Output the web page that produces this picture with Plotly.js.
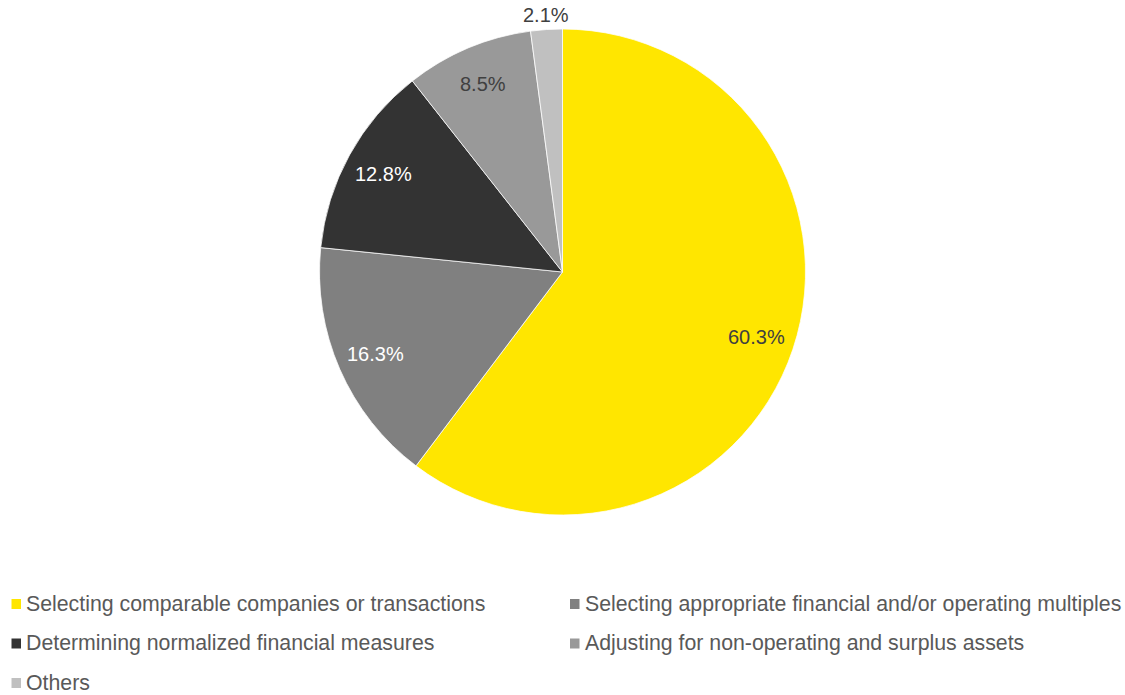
<!DOCTYPE html>
<html><head><meta charset="utf-8">
<script src="https://cdn.plot.ly/plotly-3.0.1.min.js"></script>
<style>body{margin:0;background:#fff}#chart{width:1125px;height:695px}</style>
</head><body><div id="chart"></div>
<script>
var categories = [
  "Selecting comparable companies or transactions",
  "Selecting appropriate financial and/or operating multiples",
  "Determining normalized financial measures",
  "Adjusting for non-operating and surplus assets",
  "Others"
];
var values = [60.3, 16.3, 12.8, 8.5, 2.1];
var colors = ["#FFE600", "#808080", "#333333", "#999999", "#C0C0C0"];
var textColors = ["#404040", "#FFFFFF", "#FFFFFF", "#404040", "#404040"];
var labelOutside = [false, false, false, false, true];

var W = 1125, H = 695;
var M = {l: 0, r: 0, t: 29, b: 180};
var plotH = H - M.t - M.b;
var FONT = "Liberation Sans, Arial, sans-serif";

function px2x(px) { return (px - M.l) / (W - M.l - M.r); }
function px2y(py) { return (H - M.b - py) / plotH; }

var trace = {
  type: "pie",
  labels: categories,
  values: values,
  textinfo: "none",
  textposition: "none",
  sort: false,
  direction: "clockwise",
  rotation: 0,
  showlegend: false,
  marker: {colors: colors, line: {color: "#FFFFFF", width: 0.75}},
  domain: {x: [0, 1], y: [0, 1]},
  hoverinfo: "label+percent"
};

// slice labels placed from the data (angle of each slice midpoint)
var annotations = [], shapes = [];
var total = values.reduce(function (a, b) { return a + b; }, 0);
var cx = M.l + (W - M.l - M.r) / 2, cy = M.t + plotH / 2, R = Math.min(W - M.l - M.r, plotH) / 2;
var cum = 0;
values.forEach(function (v, i) {
  var mid = (cum + v / 2) / total * 2 * Math.PI;
  cum += v;
  var f = labelOutside[i] ? 1.06 : 0.84;
  var x = cx + R * f * Math.sin(mid), y = cy - R * f * Math.cos(mid);
  annotations.push({
    xref: "paper", yref: "paper", x: px2x(x), y: px2y(y),
    xanchor: "center", yanchor: "middle", showarrow: false,
    text: v.toFixed(1) + "%",
    font: {family: FONT, size: 20, color: textColors[i]}
  });
});

// legend: two columns, built from categories and colors
var colX = [11.5, 570], rowBase = [611, 650.5, 690];
categories.forEach(function (c, i) {
  var col = i % 2, row = Math.floor(i / 2);
  var bx = colX[col], by = rowBase[row];
  shapes.push({
    type: "rect", xref: "paper", yref: "paper", layer: "above",
    x0: px2x(bx), x1: px2x(bx + 9.5), y0: px2y(by - 2), y1: px2y(by - 12),
    fillcolor: colors[i], line: {width: 0}
  });
  annotations.push({
    xref: "paper", yref: "paper", x: px2x(bx + 12.5), y: px2y(by - 7.5),
    xanchor: "left", yanchor: "middle", showarrow: false,
    text: c, font: {family: FONT, size: 21.3, color: "#595959"}
  });
});

var layout = {
  width: W, height: H,
  margin: M,
  paper_bgcolor: "#FFFFFF",
  font: {family: FONT, color: "#595959"},
  showlegend: false,
  annotations: annotations,
  shapes: shapes
};
Plotly.newPlot("chart", [trace], layout, {displayModeBar: false, staticPlot: true});
</script></body></html>
